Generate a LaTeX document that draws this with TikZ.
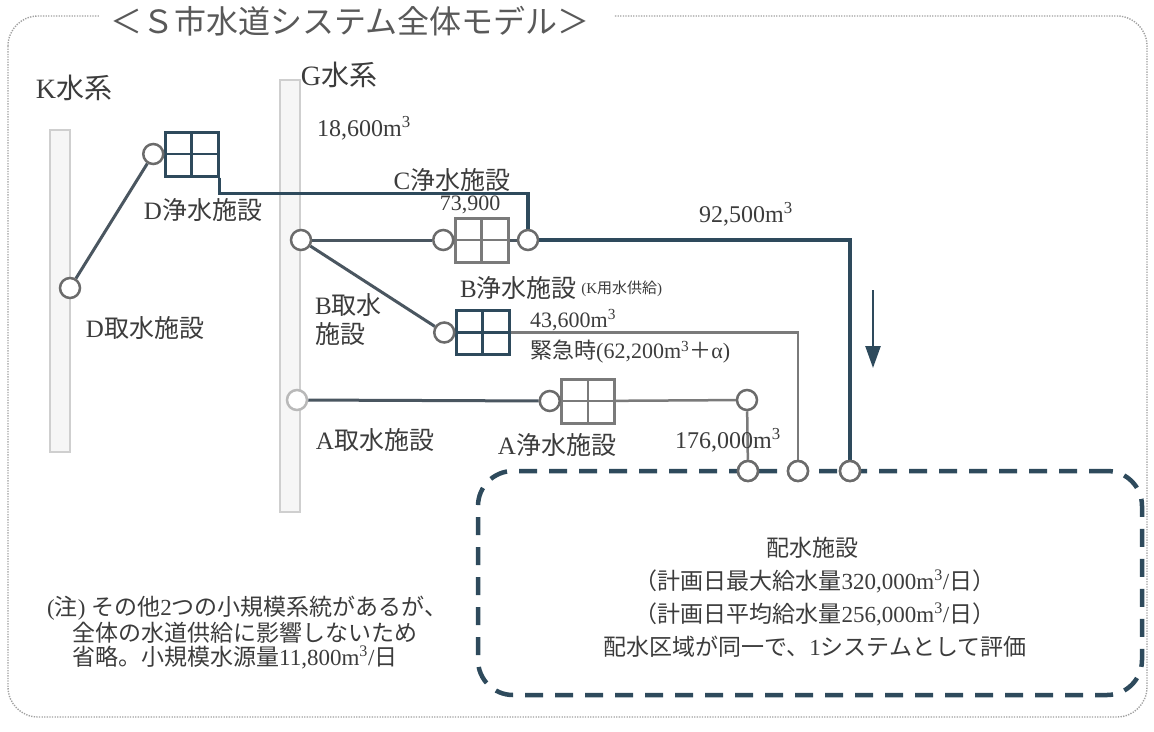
\documentclass[tikz,border=0pt]{standalone}
\usepackage{fontspec}
\setmainfont{Liberation Serif}
\newfontfamily\jp{Noto Sans CJK JP}
\usetikzlibrary{arrows.meta}
\definecolor{navy}{HTML}{2E4A5C}
\definecolor{dgray}{HTML}{4A5660}
\definecolor{lgray}{HTML}{7A7A7A}
\definecolor{cgray}{HTML}{6B6B6B}
\definecolor{txt}{HTML}{3C3C3C}
\definecolor{band}{HTML}{F6F6F6}
\definecolor{bandline}{HTML}{CFCFCF}
\definecolor{dotc}{HTML}{A0A0A0}
\begin{document}
\begin{tikzpicture}[x=1pt,y=-1pt,
  lbl/.style={text=txt,font=\fontsize{25}{30}\selectfont,inner sep=0pt},
  kei/.style={text=txt,font=\fontsize{28}{32}\selectfont,inner sep=0pt},
  num/.style={text=txt,font=\fontsize{24}{28}\selectfont,inner sep=0pt},
  numsm/.style={text=txt,font=\fontsize{22}{26}\selectfont,inner sep=0pt},
  smalltxt/.style={text=txt,font=\fontsize{15}{18}\selectfont,inner sep=0pt},
  boxtxt/.style={text=txt,font=\fontsize{23}{27}\selectfont,inner sep=0pt},
  notetxt/.style={text=txt,font=\fontsize{23}{27}\selectfont,inner sep=0pt},
  titletxt/.style={text=txt!85,font=\fontsize{32}{36}\selectfont,inner sep=0pt},
  circ/.style={circle,draw=cgray,fill=white,line width=2.5pt,minimum size=20pt,inner sep=0pt},
  gridbox/.style={rectangle,draw=#1,line width=3pt,minimum width=53pt,minimum height=44pt,inner sep=0pt,fill=white,
    path picture={\draw[#1,line width=2.5pt] (path picture bounding box.north) -- (path picture bounding box.south)
      (path picture bounding box.west) -- (path picture bounding box.east);}},
  dline/.style={navy,line width=3.5pt},
  mline/.style={dgray,line width=3pt},
  gline/.style={lgray,line width=2.5pt},
  riverband/.style={draw=bandline,fill=band,line width=1.2pt},
  dashbox/.style={draw=navy,line width=4.5pt,dash pattern=on 18pt off 12pt,rounded corners=35pt,minimum width=664pt,minimum height=224pt,inner sep=0pt}
]
\useasboundingbox (0,0) rectangle (1154,731);
\fill[white] (0,0) rectangle (1154,731);
% outer dotted frame
\draw[dotc,line width=1.4pt,dash pattern=on 1.3pt off 1.3pt,rounded corners=30pt] (8,16) rectangle (1147,717);
\fill[white] (100,2) rectangle (614,34);
\node[titletxt] (title) at (350,21) {\jp ＜Ｓ市水道システム全体モデル＞};

% river bands
\draw[riverband] (50,130) rectangle (70,452);
\draw[riverband] (280,80) rectangle (300,512);

\node[kei] (kkei) at (74,88) {K{\jp 水系}};
\node[kei] (gkei) at (339,75) {G{\jp 水系}};

% distribution box
\node[dashbox] (haisui) at (810,583) {};
\node[circ] (dc1) at (748,471) {};
\node[circ] (dc2) at (798,471) {};
\node[circ] (dc3) at (850,471) {};

% D system
\node[circ] (dtake) at (70,288) {};
\node[gridbox=navy] (dbox) at (191.5,154) {};
\node[circ,anchor=east] (dcirc) at ([xshift=1pt]dbox.west) {};
\draw[mline] (dtake) -- (dcirc);

% B / C system
\node[circ] (btake) at (301,240) {};
\node[gridbox=lgray] (bbox1) at (481.5,240) {};
\node[circ,anchor=east] (bin1) at ([xshift=1pt]bbox1.west) {};
\node[circ] (cout) at (528,240) {};
\node[gridbox=navy] (bbox2) at (482.5,332.5) {};
\node[circ,anchor=east] (bin2) at ([xshift=1pt]bbox2.west) {};

% A system
\node[circ,draw=gray!55] (atake) at (297,400) {};
\node[gridbox=lgray] (abox) at (588,401) {};
\node[circ,anchor=east] (ain) at ([xshift=1pt]abox.west) {};
\node[circ] (aout) at (747,400) {};

% connectors
\draw[dline] (dbox.south east) -- ++(0,16) -| (cout);
\draw[mline] (btake) -- (bin1);
\draw[mline] (bbox1) -- (cout);
\draw[dline] (cout) -| (dc3);
\draw[mline] (btake) -- (bin2);
\draw[gline] (bbox2) -| (dc2);
\draw[mline] (atake) -- (ain);
\draw[gline] (abox) -- (aout);
\draw[gline] (aout) -- (dc1);

% redraw circles on top
\foreach \n in {dc1,dc2,dc3} {\node[circ] at (\n) {};}

% arrow
\coordinate (arrS) at (873,290);
\coordinate (arrE) at (873,368);
\draw[navy,line width=2.5pt,-{Triangle[length=22pt,width=15pt]}] (arrS) -- (arrE);

% labels
\node[num] (n18600) at (364,128) {18,600m\textsuperscript{3}};
\node[lbl] (dplant) at (203,210) {D{\jp 浄水施設}};
\node[lbl] (dtakel) at (145,328) {D{\jp 取水施設}};
\node[lbl] (cplant) at (452,180) {C{\jp 浄水施設}};
\node[numsm] (n73900) at (470,205) {73,900};
\node[num] (n92500) at (746,214) {92,500m\textsuperscript{3}};
\node[lbl,anchor=west] (bplant) at (460,288) {B{\jp 浄水施設}};
\node[smalltxt,anchor=west] (kuse) at ([xshift=4pt,yshift=-1pt]bplant.east) {({K\jp 用水供給})};
\node[lbl,anchor=west] (btakel1) at (315,305) {B{\jp 取水}};
\node[lbl,anchor=west] (btakel2) at (315,334) {\jp 施設};
\node[numsm,anchor=west] (n43600) at (530,320) {43,600m\textsuperscript{3}};
\node[numsm,anchor=west] (kinkyu) at (530,352) {{\jp 緊急時}(62,200m\textsuperscript{3}{\jp ＋}α)};
\node[lbl] (atakel) at (375,440) {A{\jp 取水施設}};
\node[lbl] (aplant) at (557,445) {A{\jp 浄水施設}};
\node[num] (n176) at (728,440) {176,000m\textsuperscript{3}};

% box text
\node[boxtxt] (h1) at (812,548) {\jp 配水施設};
\node[boxtxt] (h2) at (815,581) {{\jp （計画日最大給水量}320,000m\textsuperscript{3}/{\jp 日）}};
\node[boxtxt] (h3) at (815,614) {{\jp （計画日平均給水量}256,000m\textsuperscript{3}/{\jp 日）}};
\node[boxtxt] (h4) at (815,647) {{\jp 配水区域が同一で、}1{\jp システムとして評価}};

% note
\node[notetxt,anchor=west] (note1) at (47,608) {({\jp 注}) {\jp その他}2{\jp つの小規模系統があるが、}};
\node[notetxt,anchor=west] (note2) at (72,633) {\jp 全体の水道供給に影響しないため};
\node[notetxt,anchor=west] (note3) at (72,657) {{\jp 省略。小規模水源量}11,800m\textsuperscript{3}/{\jp 日}};
\end{tikzpicture}
\end{document}
